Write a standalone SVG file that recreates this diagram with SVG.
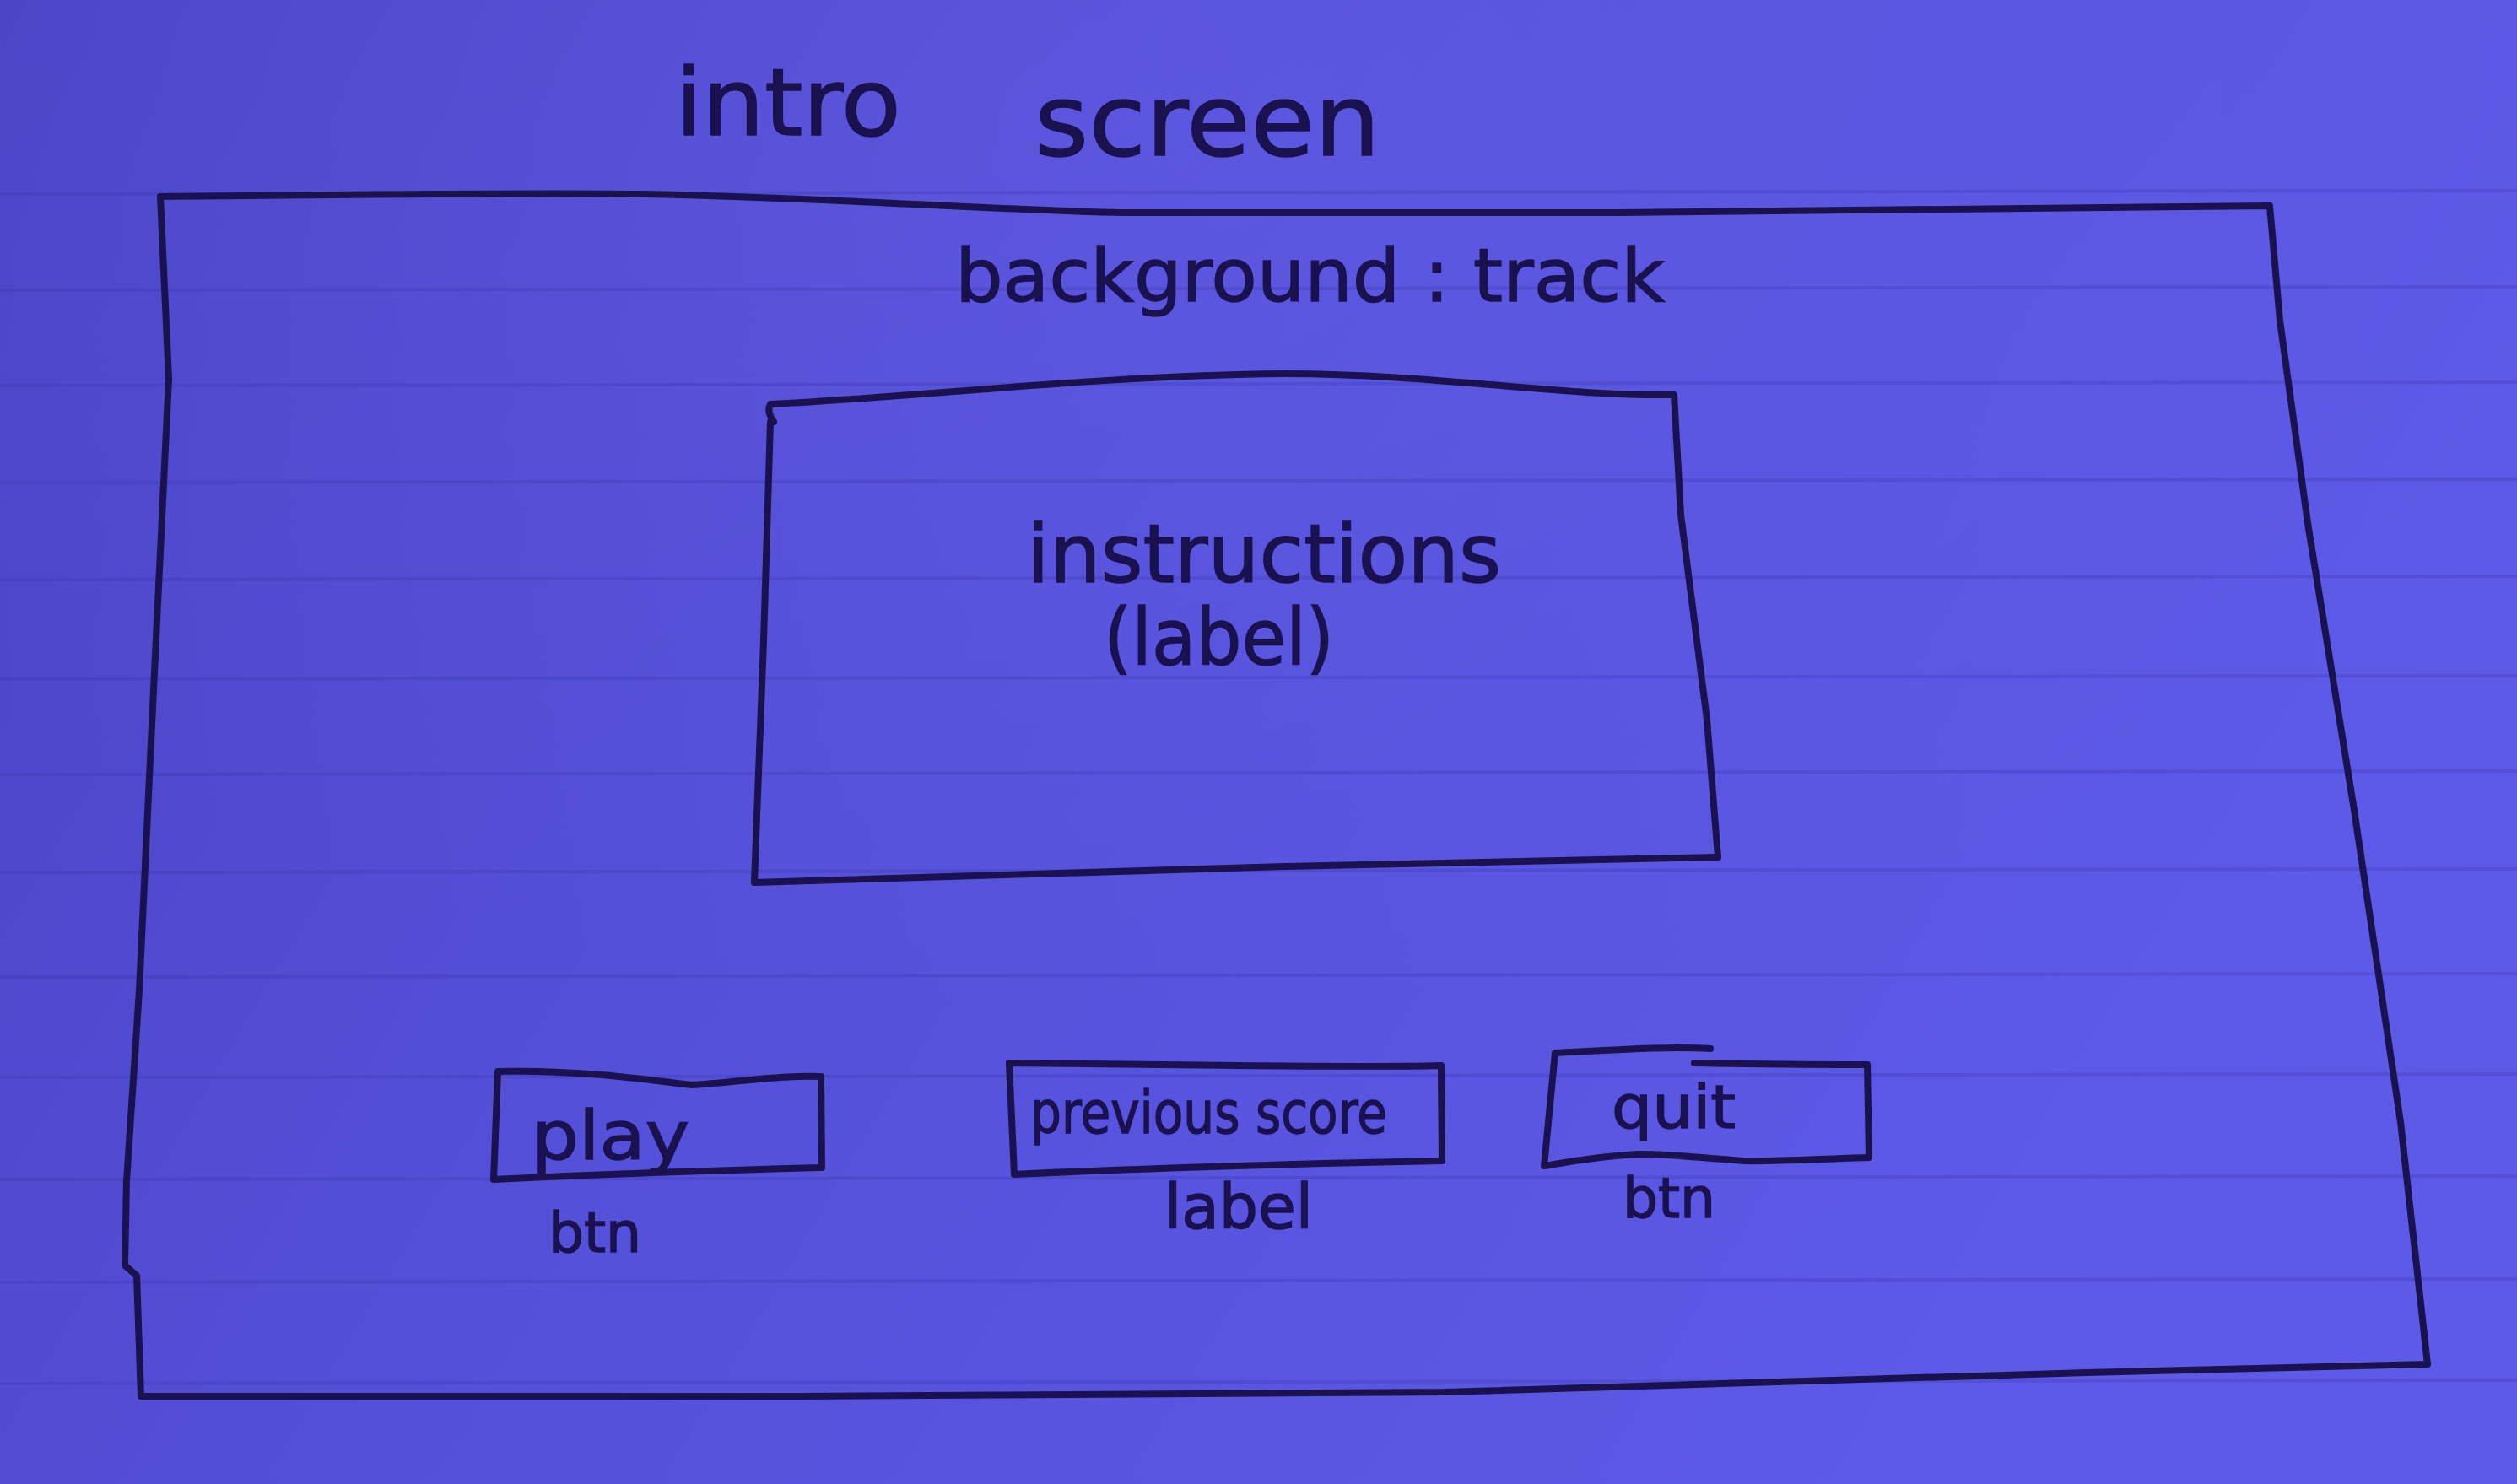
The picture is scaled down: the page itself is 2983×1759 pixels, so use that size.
<svg xmlns="http://www.w3.org/2000/svg" width="2983" height="1759" viewBox="0 0 2983 1759">
  <defs>
    <linearGradient id="paper" x1="0" y1="0" x2="1" y2="0.35">
      <stop offset="0" stop-color="#4943c4"/>
      <stop offset="0.45" stop-color="#5550d9"/>
      <stop offset="1" stop-color="#5d5ae8"/>
    </linearGradient>
    <radialGradient id="glow" cx="0.45" cy="0.08" r="0.6">
      <stop offset="0" stop-color="#6a63ea" stop-opacity="0.35"/>
      <stop offset="1" stop-color="#6a63ea" stop-opacity="0"/>
    </radialGradient>
    <style>
      .ink { fill: none; stroke: #19124f; stroke-width: 8; stroke-linejoin: round; stroke-linecap: round; }
      .hand { font-family: "DejaVu Sans", "Noto Sans", sans-serif; fill: #19124f; stroke: #19124f; stroke-width: 1.5; }
      .rule { stroke: #3b35ad; stroke-width: 4; stroke-opacity: 0.28; }
    </style>
  </defs>

  <!-- notebook page -->
  <rect x="0" y="0" width="2983" height="1759" fill="url(#paper)"/>
  <rect x="0" y="0" width="2983" height="1759" fill="url(#glow)"/>
  <g id="ruled-lines">
    <line class="rule" x1="0" y1="230" x2="2983" y2="226"/>
    <line class="rule" x1="0" y1="344" x2="2983" y2="340"/>
    <line class="rule" x1="0" y1="457" x2="2983" y2="453"/>
    <line class="rule" x1="0" y1="572" x2="2983" y2="568"/>
    <line class="rule" x1="0" y1="687" x2="2983" y2="683"/>
    <line class="rule" x1="0" y1="805" x2="2983" y2="801"/>
    <line class="rule" x1="0" y1="918" x2="2983" y2="914"/>
    <line class="rule" x1="0" y1="1034" x2="2983" y2="1030"/>
    <line class="rule" x1="0" y1="1158" x2="2983" y2="1154"/>
    <line class="rule" x1="0" y1="1277" x2="2983" y2="1273"/>
    <line class="rule" x1="0" y1="1398" x2="2983" y2="1394"/>
    <line class="rule" x1="0" y1="1520" x2="2983" y2="1516"/>
    <line class="rule" x1="0" y1="1640" x2="2983" y2="1636"/>
  </g>

  <!-- page title -->
  <g id="title">
    <text class="hand" font-size="110"><tspan x="800" y="160" textLength="268" lengthAdjust="spacingAndGlyphs">intro</tspan> <tspan x="1226" y="184" font-size="118" textLength="410" lengthAdjust="spacingAndGlyphs">screen</tspan></text>
  </g>

  <!-- outer screen frame -->
  <g id="screen">
    <path class="ink" d="M190,233 C400,231 600,228 761,230 C1000,235 1200,250 1332,252 L1902,252 C2200,250 2500,246 2690,244 L2702,380 L2735,620 L2790,960 L2845,1330 L2877,1617 L2473,1627 L1712,1650 L951,1655 L167,1655 L162,1512 L148,1500 L150,1400 L165,1174 L178,900 L200,449 Z"/>
    <text class="hand" x="1132" y="357" font-size="88" textLength="841" lengthAdjust="spacingAndGlyphs">background : track</text>
  </g>

  <!-- instructions label area -->
  <g id="instructions">
    <path class="ink" d="M917,500 C911,492 910,485 913,479 C1100,470 1300,445 1522,443 C1700,443 1850,470 1984,468 L1992,610 L2023,853 L2036,1016 L1522,1027 L894,1046 L905,760 L913,500"/>
    <text class="hand" x="1217" y="690" font-size="96" textLength="562" lengthAdjust="spacingAndGlyphs">instructions</text>
    <text class="hand" x="1308" y="788" font-size="92" textLength="273" lengthAdjust="spacingAndGlyphs">(label)</text>
  </g>

  <!-- play button -->
  <g id="play">
    <path class="ink" d="M590,1270 C700,1268 780,1282 820,1286 C880,1282 930,1274 973,1276 L974,1384 C900,1386 750,1390 585,1398 Z"/>
    <text class="hand" x="630" y="1374" font-size="80" textLength="187" lengthAdjust="spacingAndGlyphs">play</text>
    <text class="hand" x="650" y="1484" font-size="66" textLength="110" lengthAdjust="spacingAndGlyphs">btn</text>
  </g>

  <!-- previous score label -->
  <g id="previous-score">
    <path class="ink" d="M1196,1260 C1400,1262 1600,1266 1708,1263 L1709,1376 C1500,1380 1350,1385 1202,1392 Z"/>
    <text class="hand" x="1221" y="1343" font-size="70" textLength="423" lengthAdjust="spacingAndGlyphs">previous score</text>
    <text class="hand" x="1380" y="1456" font-size="73" textLength="176" lengthAdjust="spacingAndGlyphs">label</text>
  </g>

  <!-- quit button -->
  <g id="quit">
    <path class="ink" d="M1830,1382 L1843,1248 C1920,1244 1980,1240 2027,1243 M2008,1260 C2080,1262 2150,1262 2213,1262 L2215,1372 C2150,1374 2100,1377 2067,1376 C2010,1372 1970,1367 1940,1368 C1890,1371 1860,1377 1830,1382"/>
    <text class="hand" x="1910" y="1337" font-size="72" textLength="147" lengthAdjust="spacingAndGlyphs">quit</text>
    <text class="hand" x="1923" y="1443" font-size="66" textLength="110" lengthAdjust="spacingAndGlyphs">btn</text>
  </g>

  <g id="connectors"/>
</svg>
